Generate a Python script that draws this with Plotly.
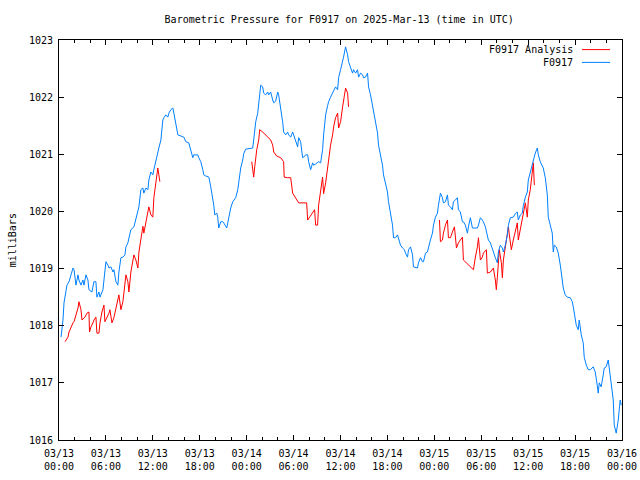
import plotly.graph_objects as go

# ---- data: hours since 2025-03-13 00:00 UTC, pressure in mb ----
blue_hours = [0.26, 0.51, 0.64, 1.02, 1.28, 1.53, 1.79, 1.92, 2.17, 2.43, 2.55, 2.81, 3.06, 3.19, 3.45, 3.70, 3.83,
    4.21, 4.47, 4.72, 4.85, 5.11, 5.24, 5.62, 5.75, 6.00, 6.26, 6.39, 6.64, 6.90, 7.02, 7.28, 7.53, 7.66, 7.92,
    8.17, 8.43, 8.56, 8.81, 8.94, 9.19, 9.58, 9.83, 10.22, 10.47, 10.73, 10.85, 11.11, 11.37, 11.49, 11.75, 12.00,
    12.13, 12.39, 12.64, 12.77, 13.03, 13.28, 13.41, 13.66, 13.92, 14.05, 14.30, 14.56, 14.69, 14.94, 15.20, 15.96,
    16.22, 16.60, 16.86, 17.11, 17.24, 17.75, 17.88, 18.13, 18.39, 18.52, 18.77, 19.16, 19.41, 19.67, 19.79, 19.92,
    20.18, 20.30, 20.43, 20.69, 20.94, 21.07, 21.33, 21.45, 21.58, 21.71, 21.96, 22.22, 22.60, 22.86, 22.99, 23.24,
    23.50, 23.62, 23.88, 24.52, 24.77, 24.90, 25.16, 25.41, 25.54, 25.80, 26.05, 26.18, 26.43, 26.69, 26.82, 27.07,
    27.33, 27.46, 27.71, 27.97, 28.09, 28.35, 28.60, 28.73, 28.99, 29.24, 29.37, 29.63, 29.88, 30.01, 30.26, 30.52,
    30.65, 30.90, 31.16, 31.29, 31.54, 31.80, 31.93, 32.18, 32.44, 32.56, 32.82, 33.07, 33.20, 33.46, 33.71, 33.84,
    34.10, 34.35, 34.48, 34.73, 34.99, 35.12, 35.37, 35.63, 35.76, 36.01, 36.27, 36.39, 36.65, 36.91, 37.03, 37.29,
    37.54, 37.67, 37.93, 38.18, 38.31, 38.57, 38.82, 38.95, 39.20, 39.46, 39.59, 39.84, 40.10, 40.23, 40.48, 40.74,
    40.86, 41.12, 41.37, 41.50, 41.76, 42.01, 42.14, 42.40, 42.65, 42.78, 43.03, 43.29, 43.42, 43.67, 43.93, 44.18,
    44.31, 44.57, 44.70, 44.95, 45.21, 45.33, 45.84, 45.97, 46.23, 46.48, 46.61, 46.87, 47.12, 47.25, 47.50, 47.76,
    47.89, 48.14, 48.40, 48.53, 48.78, 49.04, 49.16, 49.42, 49.68, 49.80, 50.06, 50.31, 50.44, 50.70, 50.95, 51.08,
    51.33, 51.59, 51.72, 51.97, 52.23, 52.36, 52.61, 52.87, 53.51, 53.64, 53.89, 54.14, 54.27, 54.53, 54.78, 54.91,
    55.17, 55.42, 55.55, 55.80, 56.06, 56.19, 56.44, 56.70, 56.83, 57.08, 57.34, 57.47, 57.72, 58.10, 58.36, 58.61,
    58.74, 59.00, 59.25, 59.38, 59.64, 59.89, 60.02, 60.27, 60.53, 60.66, 60.91, 61.17, 61.30, 61.55, 61.81, 61.93,
    62.19, 62.45, 62.57, 62.83, 63.08, 63.21, 63.34, 63.59, 63.85, 64.11, 64.36, 64.49, 64.74, 65.00, 65.38, 65.64,
    65.77, 66.02, 66.15, 66.40, 66.53, 66.79, 67.04, 67.17, 67.43, 67.68, 67.94, 68.32, 68.58, 68.83, 68.96, 69.09,
    69.34, 69.60, 69.73, 69.98, 70.24, 70.37, 70.62, 70.88, 71.01, 71.26, 71.52, 71.65, 71.77, 71.90]

blue_mb = [1017.80, 1018.10, 1018.40, 1018.71, 1018.77, 1018.89, 1019.01, 1018.98, 1018.71, 1018.89, 1018.80,
    1018.71, 1018.80, 1018.71, 1018.89, 1018.80, 1018.63, 1018.59, 1018.77, 1018.77, 1018.50, 1018.59, 1018.50,
    1018.63, 1018.80, 1019.12, 1019.06, 1019.01, 1019.03, 1018.94, 1018.98, 1018.77, 1018.71, 1018.94, 1019.19,
    1019.20, 1019.24, 1019.38, 1019.45, 1019.55, 1019.68, 1019.73, 1019.89, 1020.08, 1020.38, 1020.41, 1020.32,
    1020.41, 1020.38, 1020.55, 1020.69, 1020.64, 1020.73, 1020.90, 1021.04, 1021.11, 1021.25, 1021.60, 1021.64,
    1021.69, 1021.65, 1021.72, 1021.78, 1021.81, 1021.72, 1021.55, 1021.34, 1021.30, 1021.22, 1021.20, 1021.04,
    1020.94, 1020.99, 1020.99, 1020.94, 1020.87, 1020.73, 1020.64, 1020.62, 1020.60, 1020.43, 1020.25, 1020.11,
    1019.94, 1019.97, 1019.90, 1019.71, 1019.82, 1019.82, 1019.80, 1019.73, 1019.71, 1019.80, 1019.90, 1020.06,
    1020.17, 1020.24, 1020.38, 1020.55, 1020.76, 1020.90, 1021.01, 1021.09, 1021.11, 1021.11, 1021.25, 1021.57,
    1021.72, 1021.90, 1022.21, 1022.18, 1022.07, 1022.04, 1022.09, 1022.04, 1022.09, 1021.95, 1021.90, 1021.93,
    1022.09, 1022.04, 1021.83, 1021.57, 1021.39, 1021.34, 1021.39, 1021.34, 1021.30, 1021.39, 1021.34, 1021.22,
    1021.13, 1021.29, 1021.22, 1020.94, 1020.95, 1020.99, 1020.99, 1020.87, 1020.73, 1020.85, 1020.81, 1020.83,
    1020.85, 1020.87, 1020.85, 1021.08, 1021.34, 1021.69, 1021.85, 1021.92, 1022.00, 1022.07, 1022.13, 1022.18,
    1022.13, 1022.34, 1022.48, 1022.60, 1022.70, 1022.88, 1022.74, 1022.62, 1022.53, 1022.42, 1022.48, 1022.42,
    1022.48, 1022.35, 1022.42, 1022.39, 1022.34, 1022.35, 1022.42, 1022.18, 1022.04, 1021.86, 1021.72, 1021.55,
    1021.37, 1021.16, 1020.99, 1020.81, 1020.64, 1020.50, 1020.34, 1020.17, 1019.99, 1019.76, 1019.54, 1019.54,
    1019.59, 1019.54, 1019.41, 1019.36, 1019.33, 1019.27, 1019.20, 1019.33, 1019.38, 1019.24, 1019.03, 1019.01,
    1019.10, 1019.19, 1019.12, 1019.12, 1019.27, 1019.29, 1019.38, 1019.50, 1019.62, 1019.76, 1019.90, 1019.97,
    1020.11, 1020.32, 1020.24, 1020.15, 1020.17, 1020.29, 1020.11, 1020.08, 1020.03, 1020.17, 1020.20, 1020.24,
    1020.03, 1019.99, 1019.82, 1019.82, 1019.76, 1019.62, 1019.73, 1019.89, 1019.71, 1019.71, 1019.76, 1019.89,
    1019.85, 1019.82, 1019.73, 1019.55, 1019.50, 1019.45, 1019.33, 1019.27, 1019.19, 1019.10, 1019.29, 1019.41,
    1019.36, 1019.29, 1019.41, 1019.59, 1019.76, 1019.89, 1019.90, 1019.96, 1019.99, 1019.85, 1019.94, 1019.97,
    1020.10, 1020.25, 1020.34, 1020.55, 1020.69, 1020.85, 1020.87, 1021.02, 1021.11, 1020.99, 1020.87, 1020.81,
    1020.76, 1020.59, 1020.29, 1019.90, 1019.76, 1019.62, 1019.29, 1019.41, 1019.38, 1019.27, 1019.06, 1018.80,
    1018.66, 1018.54, 1018.50, 1018.49, 1018.42, 1018.33, 1018.15, 1018.01, 1017.93, 1018.10, 1017.84, 1017.70,
    1017.45, 1017.31, 1017.23, 1017.23, 1017.28, 1017.19, 1016.96, 1016.82, 1017.00, 1016.93, 1017.14, 1017.26,
    1017.28, 1017.40, 1017.26, 1017.00, 1016.70, 1016.26, 1016.12, 1016.35, 1016.53, 1016.70, 1016.61]

red_hours = [0.77, 1.15, 1.28, 1.53, 1.79, 1.92, 2.17, 2.43, 2.55, 2.81, 2.94, 3.19, 3.32, 3.58, 3.83, 3.90, 4.09,
    4.34, 4.47, 4.72, 4.85, 5.11, 5.24, 5.49, 5.75, 5.87, 6.13, 6.39, 6.51, 6.77, 7.02, 7.15, 7.53, 7.66, 7.92,
    8.17, 8.30, 8.56, 8.81, 8.94, 9.19, 9.45, 9.58, 9.83, 10.09, 10.22, 10.47, 10.73, 10.85, 11.11, 11.37, 11.49,
    11.75, 12.00, 12.13, 12.39, 12.64, 12.77, 12.90,
    18.0,
    24.65, 24.90, 25.03, 25.29, 25.54, 25.67, 26.05, 26.43, 26.82, 27.07, 27.33, 27.46, 27.84, 28.35, 28.73, 28.80,
    29.24, 29.63, 29.88, 30.26, 30.65, 31.67, 31.80, 32.05, 32.44, 32.69, 32.82, 33.07, 33.20, 33.46, 33.71, 33.84,
    34.10, 34.35, 34.48, 34.73, 34.99, 35.12, 35.37, 35.63, 35.76, 36.01, 36.27, 36.39, 36.65, 36.91, 37.03,
    43.0,
    48.66, 48.78, 49.04, 49.16, 49.42, 49.68, 49.80, 50.06, 50.31, 50.57, 50.83, 51.08, 51.33, 51.59, 51.72, 51.97,
    52.36, 52.61, 53.00, 53.25, 53.51, 53.64, 53.89, 54.14, 54.27, 54.66, 54.78, 55.17, 55.55, 55.80, 55.93, 56.06,
    56.31, 56.57, 56.70, 56.83, 57.08, 57.34, 57.47, 57.59, 57.85, 58.10, 58.36, 58.61, 58.74, 59.00, 59.25, 59.38,
    59.64, 59.89, 60.02, 60.27, 60.53, 60.66, 60.79]

red_mb = [1017.72, 1017.80, 1017.89, 1017.98, 1018.05, 1018.07, 1018.19, 1018.31, 1018.42, 1018.28, 1018.10,
    1018.14, 1018.15, 1018.22, 1018.24, 1017.89, 1017.98, 1018.05, 1018.10, 1018.15, 1017.87, 1017.87, 1018.05,
    1018.24, 1018.36, 1018.07, 1018.14, 1018.22, 1018.28, 1018.05, 1018.14, 1018.22, 1018.40, 1018.54, 1018.28,
    1018.42, 1018.57, 1018.89, 1018.77, 1018.59, 1018.94, 1019.10, 1019.24, 1019.15, 1019.01, 1019.29, 1019.50,
    1019.74, 1019.62, 1019.82, 1019.97, 1020.08, 1019.94, 1019.90, 1020.24, 1020.52, 1020.76, 1020.64, 1020.52,
    None,
    1020.87, 1020.60, 1020.78, 1021.08, 1021.25, 1021.43, 1021.39, 1021.34, 1021.29, 1021.25, 1021.16, 1021.04,
    1020.97, 1020.94, 1020.87, 1020.60, 1020.59, 1020.59, 1020.32, 1020.24, 1020.15, 1020.15, 1019.85, 1019.90,
    1019.97, 1020.03, 1019.76, 1019.76, 1020.11, 1020.38, 1020.60, 1020.31, 1020.50, 1020.76, 1020.94, 1021.16,
    1021.34, 1021.48, 1021.64, 1021.72, 1021.46, 1021.57, 1021.83, 1021.95, 1022.16, 1022.07, 1021.83,
    None,
    1019.85, 1019.47, 1019.50, 1019.62, 1019.76, 1019.85, 1019.54, 1019.54, 1019.64, 1019.73, 1019.36, 1019.45,
    1019.50, 1019.55, 1019.15, 1019.12, 1019.06, 1019.03, 1018.98, 1019.20, 1019.38, 1019.54, 1019.15, 1019.20,
    1019.27, 1019.33, 1018.92, 1018.94, 1019.01, 1018.80, 1018.63, 1018.85, 1019.33, 1019.10, 1018.84, 1019.15,
    1019.38, 1019.55, 1019.73, 1019.59, 1019.33, 1019.50, 1019.64, 1019.80, 1019.50, 1019.68, 1019.82, 1019.97,
    1020.15, 1019.90, 1020.20, 1020.38, 1020.69, 1020.85, 1020.46]

tick_hours = [0, 6, 12, 18, 24, 30, 36, 42, 48, 54, 60, 66, 72]
tick_labels = ["03/13<br>00:00", "03/13<br>06:00", "03/13<br>12:00", "03/13<br>18:00",
               "03/14<br>00:00", "03/14<br>06:00", "03/14<br>12:00", "03/14<br>18:00",
               "03/15<br>00:00", "03/15<br>06:00", "03/15<br>12:00", "03/15<br>18:00",
               "03/16<br>00:00"]
y_ticks = [1016, 1017, 1018, 1019, 1020, 1021, 1022, 1023]

series_names = ["F0917 Analysis", "F0917"]
series_colors = ["#ff0000", "#0080ff"]

FONT = "DejaVu Sans Mono"

fig = go.Figure()
fig.add_trace(go.Scatter(x=red_hours, y=red_mb, mode="lines", name=series_names[0],
                         line=dict(color=series_colors[0], width=1), connectgaps=False,
                         showlegend=False, hoverinfo="skip"))
fig.add_trace(go.Scatter(x=blue_hours, y=blue_mb, mode="lines", name=series_names[1],
                         line=dict(color=series_colors[1], width=1),
                         showlegend=False, hoverinfo="skip"))

# manual gnuplot-style key (text then sample line), top right inside
key_y = [0.976, 0.944]
for i, (nm, col) in enumerate(zip(series_names, series_colors)):
    fig.add_annotation(x=0.9165, y=key_y[i], xref="paper", yref="paper", text=nm,
                       showarrow=False, xanchor="right", yanchor="middle",
                       font=dict(family=FONT, size=10, color="black"))
    fig.add_shape(type="line", xref="paper", yref="paper", x0=0.929, x1=0.9787,
                  y0=key_y[i], y1=key_y[i], line=dict(color=col, width=1))

fig.add_annotation(x=-0.083, y=0.5, xref="paper", yref="paper", text="milliBars",
                   textangle=-90, showarrow=False, xanchor="center", yanchor="middle",
                   font=dict(family=FONT, size=10, color="black"))

fig.update_layout(
    width=640, height=480,
    margin=dict(l=59, r=18, t=40, b=40, autoexpand=False),
    paper_bgcolor="white", plot_bgcolor="white",
    title=dict(text="Barometric Pressure for F0917 on 2025-Mar-13 (time in UTC)",
               x=0.53, xanchor="center", y=1 - 19 / 480, yanchor="middle",
               font=dict(family=FONT, size=10, color="black")),
    font=dict(family=FONT, size=10, color="black"),
    showlegend=False,
    hovermode=False,
)
fig.update_xaxes(range=[0, 72], tickvals=tick_hours, ticktext=tick_labels, automargin=False,
                 ticks="inside", ticklen=5, tickwidth=1, tickcolor="black",
                 minor=dict(dtick=2, tick0=0, ticks="inside", ticklen=3, tickcolor="black", showgrid=False),
                 showline=True, linecolor="black", linewidth=1, mirror="allticks",
                 showgrid=False, zeroline=False, ticklabelstandoff=4,
                 tickfont=dict(family=FONT, size=10, color="black"))
fig.update_yaxes(range=[1016, 1023], tickvals=y_ticks, ticktext=[str(v) for v in y_ticks], automargin=False,
                 ticks="inside", ticklen=5, tickwidth=1, tickcolor="black",
                 showline=True, linecolor="black", linewidth=1, mirror="allticks",
                 showgrid=False, zeroline=False, ticklabelstandoff=3,
                 tickfont=dict(family=FONT, size=10, color="black"))

fig.write_html("out.html", config={"displayModeBar": False},
               post_script="document.body.style.margin='0';document.body.style.padding='0';")
